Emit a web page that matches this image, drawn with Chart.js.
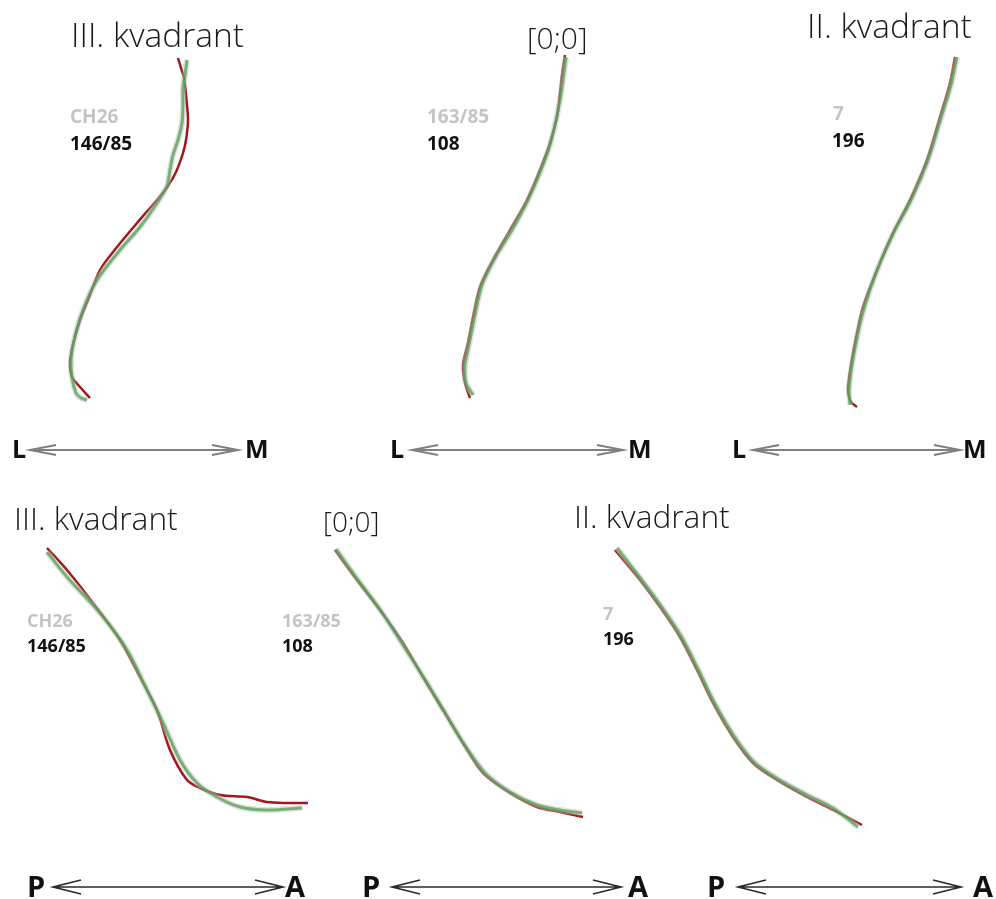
<!DOCTYPE html>
<html>
<head>
<meta charset="utf-8">
<script src="https://cdn.jsdelivr.net/npm/chart.js@4"></script>
<style>
  html, body { margin: 0; padding: 0; background: #fff; }
  #wrap { width: 996px; height: 899px; }
</style>
</head>
<body>
<div id="wrap"><canvas id="curves" width="996" height="899"></canvas></div>
<script>
// curve traces (x, y in picture units, y grows downwards)
const topLeftRed = [[178,58],[181,68],[184,78],[186,95],[188,120],[186,140],[183,153],[176,172],[168,186],[157,200],[137,223],[117,247],[100,270],[88,300],[80,320],[73,345],[70,362],[72,377],[80,387],[90,398]]
const topLeftGreen = [[187,60],[185,75],[183,88],[183,105],[182,123],[178,140],[173,155],[170,170],[167,186],[157,203],[140,227],[120,250],[97,280],[83,310],[74,340],[71,360],[72,377],[76,393],[81,398],[87,400]]
const topMidRed = [[565,55],[562,75],[560,93],[557,117],[550,143],[540,170],[527,200],[510,230],[493,260],[480,287],[473,317],[468,343],[463,365],[465,383],[470,398]]
const topMidGreen = [[566,57],[563,80],[560,100],[556,120],[550,145],[541,170],[528,200],[512,230],[495,258],[482,285],[475,315],[469,345],[465,365],[466,383],[473,395]]
const topRightRed = [[955,57],[950,83],[940,117],[927,160],[910,200],[893,233],[877,270],[863,307],[857,333],[851,365],[848,390],[851,402],[857,407]]
const topRightGreen = [[957,57],[951,85],[941,118],[928,160],[911,200],[894,232],[878,268],[865,305],[858,333],[852,365],[849,390],[850,405]]
const botLeftRed = [[47,548],[67,570],[93,603],[120,640],[140,677],[157,710],[170,750],[187,780],[200,788],[220,795],[247,797],[267,802],[287,803],[308,803]]
const botLeftGreen = [[47,552],[67,577],[100,613],[127,650],[147,690],[163,723],[180,760],[197,783],[217,797],[240,807],[267,810],[302,808]]
const botMidRed = [[335,550],[357,580],[380,610],[403,643],[423,677],[443,710],[463,743],[483,773],[510,793],[537,807],[560,812],[583,817]]
const botMidGreen = [[336,549],[358,580],[381,611],[403,645],[424,678],[444,711],[464,744],[485,773],[510,792],[537,805],[560,810],[582,813]]
const botRightRed = [[615,550],[640,580],[660,607],[680,637],[697,670],[713,703],[733,737],[753,763],[777,780],[807,797],[833,810],[862,825]]
const botRightGreen = [[617,548],[641,579],[661,606],[681,636],[698,669],[714,702],[734,736],[754,762],[778,779],[807,795],[833,808],[858,827]]

// texts
const titles = ['III. kvadrant', '[0;0]', 'II. kvadrant', 'III. kvadrant', '[0;0]', 'II. kvadrant']
const caseIds = ['CH26', '163/85', '7', 'CH26', '163/85', '7']
const caseNums = ['146/85', '108', '196', '146/85', '108', '196']
const axisEnds = [['L', 'M'], ['L', 'M'], ['L', 'M'], ['P', 'A'], ['P', 'A'], ['P', 'A']]

// where each panel puts its things
const layout = [
  { title: [71, 47, 33.5], ids: [70, 123, 70, 150, 19], axis: [12, 245, 458, 25], arrow: [30, 238, 450] },
  { title: [527, 49, 30], ids: [427, 123, 427, 150, 19], axis: [390, 628, 458, 25], arrow: [412, 623, 450] },
  { title: [807, 38, 33.5], ids: [833, 120, 832, 147, 19], axis: [732, 963, 458, 25], arrow: [753, 960, 450] },
  { title: [14, 530, 31.7], ids: [27, 627, 27, 652, 18], axis: [27, 285, 897, 29], arrow: [53, 283, 887] },
  { title: [323, 532, 28], ids: [282, 627, 282, 652, 18], axis: [362, 628, 897, 29], arrow: [392, 621, 887] },
  { title: [574, 528, 31.7], ids: [603, 620, 603, 645, 18], axis: [707, 973, 897, 29], arrow: [738, 961, 887] },
]

const pairs = [
  [topLeftRed, topLeftGreen], [topMidRed, topMidGreen], [topRightRed, topRightGreen],
  [botLeftRed, botLeftGreen], [botMidRed, botMidGreen], [botRightRed, botRightGreen],
]

function toPoints(arr) {
  return arr.map(p => ({ x: p[0], y: p[1] }))
}

// double headed arrow as one broken polyline
function arrowPoints(x1, x2, y, len, half) {
  return [
    { x: x1 + len, y: y - half }, { x: x1, y }, { x: x1 + len, y: y + half },
    { x: x1, y: null },
    { x: x1, y }, { x: x2, y },
    { x: x2, y: null },
    { x: x2 - len, y: y - half }, { x: x2, y }, { x: x2 - len, y: y + half },
  ]
}

// chart.js paints dataset 0 last, so the green goes first to sit on top
const datasets = []
pairs.forEach(([red, green]) => {
  datasets.push({
    data: toPoints(green),
    borderColor: 'rgba(88,162,88,0.78)',
    borderWidth: 3,
    tension: 0.3,
  })
  datasets.push({
    data: toPoints(green),
    borderColor: 'rgba(185,192,185,0.45)',
    borderWidth: 6,
    tension: 0.3,
  })
  datasets.push({
    data: toPoints(red),
    borderColor: '#a3161c',
    borderWidth: 2.5,
    tension: 0.3,
  })
})
layout.forEach((p, i) => {
  const top = i < 3
  datasets.push({
    data: arrowPoints(p.arrow[0], p.arrow[1], p.arrow[2], top ? 26 : 28, top ? 5 : 7),
    borderColor: top ? '#808080' : '#2a2a2a',
    borderWidth: top ? 2 : 1.6,
    tension: 0,
    spanGaps: false,
  })
})

const textPlugin = {
  id: 'panelText',
  afterDatasetsDraw(chart) {
    const { ctx, scales } = chart
    const px = v => scales.x.getPixelForValue(v)
    const py = v => scales.y.getPixelForValue(v)
    ctx.save()
    ctx.textAlign = 'left'
    ctx.textBaseline = 'alphabetic'
    layout.forEach((p, i) => {
      ctx.fillStyle = '#1a1a1a'
      ctx.font = '300 ' + p.title[2] + 'px "Open Sans"'
      ctx.fillText(titles[i], px(p.title[0]), py(p.title[1]))

      ctx.font = 'bold ' + p.ids[4] + 'px "Open Sans"'
      ctx.fillStyle = '#c4c4c4'
      ctx.fillText(caseIds[i], px(p.ids[0]), py(p.ids[1]))
      ctx.fillStyle = '#111'
      ctx.fillText(caseNums[i], px(p.ids[2]), py(p.ids[3]))

      ctx.font = 'bold ' + p.axis[3] + 'px "Open Sans"'
      ctx.fillStyle = '#111'
      ctx.fillText(axisEnds[i][0], px(p.axis[0]), py(p.axis[2]))
      ctx.fillText(axisEnds[i][1], px(p.axis[1]), py(p.axis[2]))
    })
    ctx.restore()
  }
}

new Chart(document.getElementById('curves'), {
  type: 'scatter',
  data: { datasets },
  options: {
    responsive: false,
    animation: false,
    showLine: true,
    layout: { padding: 0 },
    elements: { point: { radius: 0, hoverRadius: 0 } },
    plugins: { legend: { display: false }, tooltip: { enabled: false } },
    scales: {
      x: { type: 'linear', min: 0, max: 996, display: false },
      y: { type: 'linear', min: 0, max: 899, reverse: true, display: false },
    },
  },
  plugins: [textPlugin],
})
</script>
</body>
</html>
